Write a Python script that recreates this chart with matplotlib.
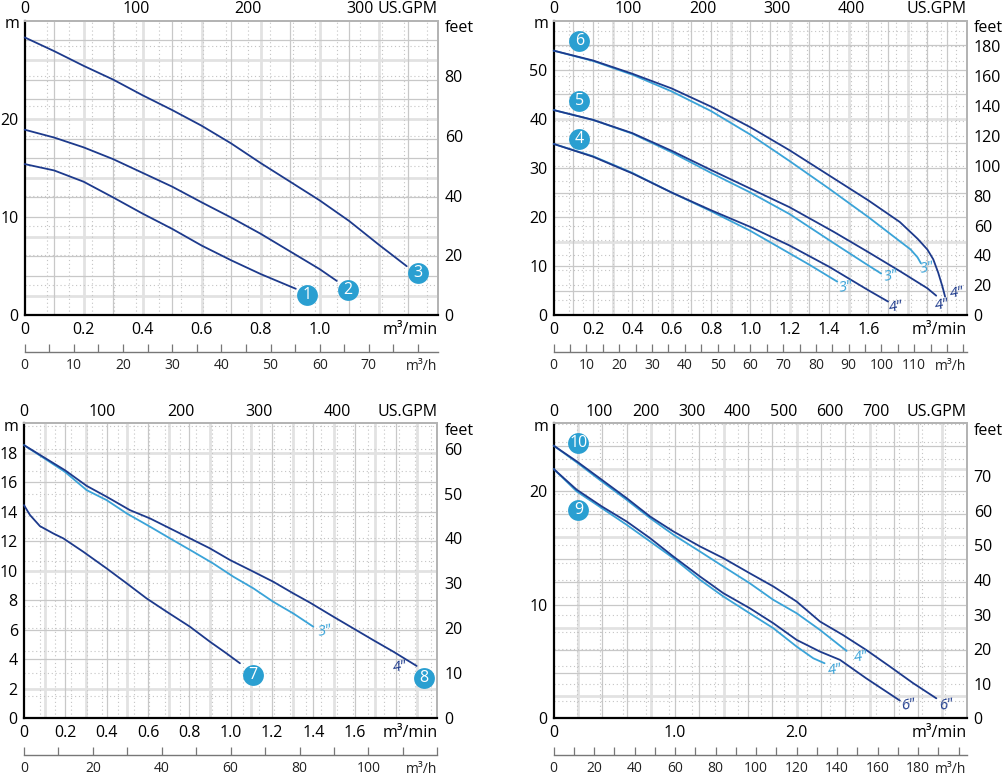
import numpy as np
import matplotlib
matplotlib.use('Agg')
import matplotlib.pyplot as plt
from matplotlib.ticker import FixedLocator

plt.rcParams['font.family'] = ['Open Sans', 'DejaVu Sans']

GPM = 264.172   # US gallons per minute in 1 m3/min
FT = 3.28084    # feet per metre

DARK = '#1d3a8c'
LIGHT = '#3aa3d8'
BADGE = '#2a9fd1'

# ---------------- Panel 1 (pumps 1-3) ----------------
p1_c1_q = [0, 0.1, 0.2, 0.3, 0.4, 0.5, 0.6, 0.7, 0.8, 0.919]
p1_c1_h = [15.4, 14.75, 13.6, 12.0, 10.35, 8.8, 7.1, 5.6, 4.2, 2.7]
p1_c2_q = [0, 0.1, 0.2, 0.3, 0.4, 0.5, 0.6, 0.7, 0.8, 0.9, 1.0, 1.058]
p1_c2_h = [18.9, 18.1, 17.1, 15.9, 14.5, 13.1, 11.5, 9.95, 8.3, 6.5, 4.7, 3.5]
p1_c3_q = [0, 0.1, 0.2, 0.3, 0.4, 0.5, 0.6, 0.7, 0.8, 0.9, 1.0, 1.1, 1.2, 1.295]
p1_c3_h = [28.3, 26.9, 25.4, 24.0, 22.4, 20.9, 19.3, 17.5, 15.5, 13.6, 11.7, 9.6, 7.2, 5.0]
p1_badges = [(0.958, 2.1, '1'), (1.095, 2.6, '2'), (1.334, 4.3, '3')]

# ---------------- Panel 2 (pumps 4-6, 3" / 4") ----------------
p2_c6_4_q = [0, 0.2, 0.4, 0.6, 0.8, 1.0, 1.2, 1.4, 1.6, 1.76, 1.85, 1.9, 1.93, 1.955, 1.977, 1.99]
p2_c6_4_h = [53.9, 51.9, 49.2, 46.2, 42.5, 38.3, 33.6, 28.5, 23.4, 19.0, 15.6, 13.4, 11.4, 8.7, 5.8, 3.8]
p2_c6_3_q = [0, 0.2, 0.4, 0.6, 0.8, 1.0, 1.2, 1.4, 1.6, 1.73, 1.815, 1.85, 1.867]
p2_c6_3_h = [53.9, 51.8, 49.0, 45.6, 41.6, 36.8, 31.4, 25.8, 20.0, 16.0, 13.4, 11.8, 10.6]
p2_c5_4_q = [0, 0.2, 0.4, 0.6, 0.8, 1.0, 1.2, 1.424, 1.594, 1.764, 1.9, 1.945]
p2_c5_4_h = [41.8, 39.8, 37.1, 33.5, 29.6, 25.8, 22.0, 17.0, 13.0, 8.9, 5.5, 4.0]
p2_c5_3_q = [0, 0.2, 0.4, 0.6, 0.8, 1.0, 1.2, 1.424, 1.594, 1.665]
p2_c5_3_h = [41.8, 39.8, 37.0, 33.2, 29.0, 25.0, 20.6, 14.7, 10.3, 8.5]
p2_c4_4_q = [0, 0.2, 0.4, 0.6, 0.8, 1.0, 1.2, 1.4, 1.6, 1.70]
p2_c4_4_h = [34.9, 32.3, 28.9, 25.0, 21.4, 18.0, 14.2, 9.9, 5.1, 2.8]
p2_c4_3_q = [0, 0.2, 0.4, 0.6, 0.8, 1.0, 1.2, 1.3, 1.442]
p2_c4_3_h = [34.9, 32.4, 29.0, 25.0, 21.2, 17.2, 12.6, 10.3, 6.85]
p2_badges = [(0.131, 55.9, '6'), (0.131, 43.6, '5'), (0.131, 35.9, '4')]
p2_tags = [(1.90, 9.6, '3"', LIGHT), (1.713, 7.9, '3"', LIGHT), (1.484, 5.7, '3"', LIGHT),
           (2.05, 4.5, '4"', DARK), (1.977, 2.1, '4"', DARK), (1.739, 1.75, '4"', DARK)]

# ---------------- Panel 3 (pumps 7-8) ----------------
p3_c7_q = [0, 0.029, 0.077, 0.142, 0.19, 0.287, 0.4, 0.497, 0.593, 0.69, 0.803, 0.9, 0.98, 1.045]
p3_c7_h = [14.45, 13.78, 13.03, 12.53, 12.2, 11.29, 10.16, 9.15, 8.13, 7.23, 6.21, 5.19, 4.4, 3.73]
p3_c8_4_q = [0, 0.198, 0.303, 0.4, 0.513, 0.61, 0.69, 0.803, 0.9, 0.997, 1.11, 1.206, 1.303, 1.384,
             1.497, 1.593, 1.69, 1.787, 1.9]
p3_c8_4_h = [18.52, 16.82, 15.76, 15.02, 14.11, 13.55, 12.99, 12.2, 11.52, 10.73, 9.94, 9.26, 8.47, 7.84,
             6.89, 6.1, 5.3, 4.52, 3.55]
p3_c8_3_q = [0, 0.198, 0.303, 0.4, 0.497, 0.61, 0.706, 0.819, 0.915, 1.013, 1.11, 1.206, 1.303, 1.4]
p3_c8_3_h = [18.52, 16.71, 15.47, 14.79, 13.89, 12.99, 12.2, 11.29, 10.5, 9.6, 8.81, 7.9, 7.11, 6.21]
p3_badges = [(1.109, 2.94, '7'), (1.937, 2.71, '8')]
p3_tags = [(1.456, 5.94, '3"', LIGHT), (1.819, 3.46, '4"', DARK)]

# ---------------- Panel 4 (pumps 9-10, 4" / 6") ----------------
p4_c10_6_q = [0, 0.189, 0.395, 0.6, 0.793, 0.985, 1.204, 1.396, 1.613, 1.808, 2.0, 2.192, 2.38, 2.572,
              2.768, 2.96, 3.15]
p4_c10_6_h = [24.03, 22.65, 21.03, 19.41, 17.79, 16.47, 15.15, 14.12, 12.79, 11.62, 10.29, 8.53, 7.35,
              6.03, 4.56, 3.09, 1.76]
p4_c10_4_q = [0, 0.189, 0.395, 0.6, 0.793, 0.985, 1.204, 1.396, 1.613, 1.808, 2.0, 2.192, 2.411]
p4_c10_4_h = [24.03, 22.56, 20.88, 19.26, 17.65, 16.18, 14.7, 13.38, 11.91, 10.44, 9.26, 7.79, 5.94]
p4_c9_6_q = [0, 0.189, 0.395, 0.6, 0.793, 0.985, 1.204, 1.396, 1.613, 1.808, 2.0, 2.192, 2.357, 2.572,
             2.85]
p4_c9_6_h = [21.97, 20.15, 18.68, 17.35, 15.88, 14.26, 12.5, 11.03, 9.71, 8.38, 6.91, 5.88, 5.15, 3.53,
             1.56]
p4_c9_4_q = [0, 0.189, 0.395, 0.6, 0.793, 0.985, 1.204, 1.396, 1.613, 1.808, 2.0, 2.137, 2.23]
p4_c9_4_h = [21.97, 20.0, 18.53, 17.06, 15.59, 14.12, 12.21, 10.74, 9.26, 7.94, 6.32, 5.29, 4.85]
p4_badges = [(0.203, 24.26, '10'), (0.203, 18.38, '9')]
p4_tags = [(3.234, 1.18, '6"', DARK), (2.919, 1.18, '6"', DARK),
           (2.535, 5.38, '4"', LIGHT), (2.315, 4.26, '4"', LIGHT)]

# ---------------- axis definitions ----------------
p1_xticks = [0, 0.2, 0.4, 0.6, 0.8, 1.0]
p1_xlabels = ['0', '0.2', '0.4', '0.6', '0.8', '1.0']
p1_yticks = [0, 10, 20]
p1_gpm = [0, 100, 200, 300]
p1_feet = [0, 20, 40, 60, 80]
p1_mh = [0, 10, 20, 30, 40, 50, 60, 70]

p2_xticks = [0, 0.2, 0.4, 0.6, 0.8, 1.0, 1.2, 1.4, 1.6]
p2_xlabels = ['0', '0.2', '0.4', '0.6', '0.8', '1.0', '1.2', '1.4', '1.6']
p2_yticks = [0, 10, 20, 30, 40, 50]
p2_gpm = [0, 100, 200, 300, 400]
p2_feet = [0, 20, 40, 60, 80, 100, 120, 140, 160, 180]
p2_mh = [0, 10, 20, 30, 40, 50, 60, 70, 80, 90, 100, 110]

p3_xticks = p2_xticks
p3_xlabels = p2_xlabels
p3_yticks = [0, 2, 4, 6, 8, 10, 12, 14, 16, 18]
p3_gpm = [0, 100, 200, 300, 400]
p3_feet = [0, 10, 20, 30, 40, 50, 60]
p3_mh = [0, 20, 40, 60, 80, 100]

p4_xticks = [0, 1.0, 2.0]
p4_xlabels = ['0', '1.0', '2.0']
p4_yticks = [0, 10, 20]
p4_gpm = [0, 100, 200, 300, 400, 500, 600, 700]
p4_feet = [0, 10, 20, 30, 40, 50, 60, 70]
p4_mh = [0, 20, 40, 60, 80, 100, 120, 140, 160, 180]

W, H = 1003, 780
fig = plt.figure(figsize=(W / 100, H / 100), dpi=100)


def px_rect(l, r, t, b):
    return [l / W, (H - b) / H, (r - l) / W, (b - t) / H]


panels = [
    dict(rect=px_rect(24.7, 437.7, 20.7, 315.3), xmax=1.4, ymax=30,
         xticks=p1_xticks, xlabels=p1_xlabels, yticks=p1_yticks, gpm=p1_gpm, feet=p1_feet,
         mh=p1_mh, mh_minor=5,
         curves=[(p1_c1_q, p1_c1_h, DARK), (p1_c2_q, p1_c2_h, DARK), (p1_c3_q, p1_c3_h, DARK)],
         badges=p1_badges, tags=[],
         vs=0.1, vthick=[0.2, 0.4, 0.6, 0.8, 1.0, 1.2], vdot=20, hs=2, hthick=[2, 8, 14, 20, 26], hdot=10),
    dict(rect=px_rect(553.7, 966.7, 20.7, 315.3), xmax=2.1, ymax=60,
         xticks=p2_xticks, xlabels=p2_xlabels, yticks=p2_yticks, gpm=p2_gpm, feet=p2_feet,
         mh=p2_mh, mh_minor=5,
         curves=[(p2_c6_3_q, p2_c6_3_h, LIGHT), (p2_c5_3_q, p2_c5_3_h, LIGHT), (p2_c4_3_q, p2_c4_3_h, LIGHT),
                 (p2_c6_4_q, p2_c6_4_h, DARK), (p2_c5_4_q, p2_c5_4_h, DARK), (p2_c4_4_q, p2_c4_4_h, DARK)],
         badges=p2_badges, tags=p2_tags,
         vs=0.1, vthick=[0.3, 0.6, 0.9, 1.2, 1.5, 1.8], vdot=20, hs=5, hthick=[15, 40], hdot=10),
    dict(rect=px_rect(24.0, 437.3, 423.3, 718.3), xmax=2.0, ymax=20,
         xticks=p3_xticks, xlabels=p3_xlabels, yticks=p3_yticks, gpm=p3_gpm, feet=p3_feet,
         mh=p3_mh, mh_minor=10,
         curves=[(p3_c8_3_q, p3_c8_3_h, LIGHT), (p3_c8_4_q, p3_c8_4_h, DARK), (p3_c7_q, p3_c7_h, DARK)],
         badges=p3_badges, tags=p3_tags,
         vs=0.1, vthick=[0.1, 0.3, 0.5, 0.7, 0.9, 1.1, 1.3, 1.5, 1.7, 1.9], vdot=20, hs=2,
         hthick=[2, 10, 18], hdot=5),
    dict(rect=px_rect(553.7, 966.7, 423.3, 718.3), xmax=3.4, ymax=26,
         xticks=p4_xticks, xlabels=p4_xlabels, yticks=p4_yticks, gpm=p4_gpm, feet=p4_feet,
         mh=p4_mh, mh_minor=10,
         curves=[(p4_c10_4_q, p4_c10_4_h, LIGHT), (p4_c9_4_q, p4_c9_4_h, LIGHT),
                 (p4_c10_6_q, p4_c10_6_h, DARK), (p4_c9_6_q, p4_c9_6_h, DARK)],
         badges=p4_badges, tags=p4_tags,
         vs=0.2, vthick=[0.2, 0.8, 1.4, 2.0, 2.6, 3.2], vdot=50, hs=2, hthick=[2, 8, 16, 22], hdot=5),
]

FS = 11.5
GRID = '#c8c8c8'
THICK = '#e2e2e2'
DOT = '#c4c4c4'
for P in panels:
    ax = fig.add_axes(P['rect'])
    xmax, ymax = P['xmax'], P['ymax']
    ax.set_xlim(0, xmax)
    ax.set_ylim(0, ymax)

    # grid
    vthick = np.array(P['vthick'])
    hthick = np.array(P['hthick'])
    for v in np.arange(P['vs'], xmax - 1e-6, P['vs']):
        if np.min(np.abs(vthick - v)) > 1e-6:
            ax.axvline(v, color=GRID, lw=0.9, zorder=0.6)
    for v in vthick:
        ax.axvline(v, color=THICK, lw=2.0, zorder=0.5)
    for g in np.arange(P['vdot'], xmax * GPM - 1e-6, P['vdot']):
        ax.axvline(g / GPM, color=DOT, lw=0.8, ls=(0, (1, 2.5)), zorder=0.6)
    for hv in np.arange(P['hs'], ymax - 1e-6, P['hs']):
        if np.min(np.abs(hthick - hv)) > 1e-6:
            ax.axhline(hv, color=GRID, lw=0.9, zorder=0.6)
    for hv in hthick:
        ax.axhline(hv, color=THICK, lw=2.0, zorder=0.5)
    for f in np.arange(P['hdot'], ymax * FT - 1e-6, P['hdot']):
        ax.axhline(f / FT, color=DOT, lw=0.8, ls=(0, (1, 2.5)), zorder=0.6)

    # curves
    for q, h, c in P['curves']:
        ax.plot(q, h, color=c, lw=1.3, solid_capstyle='round', solid_joinstyle='round',
                zorder=3, clip_on=False)
    for x, y, t in P['badges']:
        ax.plot([x], [y], 'o', ms=15, color=BADGE, mec='none', zorder=5, clip_on=False)
        ax.text(x, y, t, color='white', fontsize=11.5, ha='center', va='center', zorder=6)
    for x, y, t, c in P['tags']:
        ax.text(x, y, t, color=c, fontsize=11, style='italic', ha='center', va='center',
                rotation=12, zorder=4)

    # spines
    for s in ('left', 'bottom'):
        ax.spines[s].set_color('black')
        ax.spines[s].set_linewidth(1.6)
    for s in ('top', 'right'):
        ax.spines[s].set_color('#b4b4b4')
        ax.spines[s].set_linewidth(1.4)

    ax.set_xticks(P['xticks'])
    ax.set_xticklabels(P['xlabels'])
    ax.set_yticks(P['yticks'])
    ax.tick_params(axis='both', length=0, labelsize=FS)
    ax.tick_params(axis='x', pad=5)
    ax.tick_params(axis='y', pad=4.5)

    top = ax.secondary_xaxis('top', functions=(lambda q: q * GPM, lambda g: g / GPM))
    top.set_xticks(P['gpm'])
    top.tick_params(length=0, labelsize=FS, pad=2.5)
    top.spines['top'].set_color('#b4b4b4')
    top.spines['top'].set_linewidth(1.4)

    right = ax.secondary_yaxis('right', functions=(lambda m: m * FT, lambda f: f / FT))
    right.set_yticks(P['feet'])
    right.tick_params(length=0, labelsize=FS, pad=5)
    right.spines['right'].set_color('#b4b4b4')
    right.spines['right'].set_linewidth(1.4)

    hgt = P['rect'][3] * H
    loc = -36.5 / hgt
    mh = ax.secondary_xaxis(loc, functions=(lambda q: q * 60, lambda v: v / 60))
    mh.set_xticks(P['mh'])
    mh.xaxis.set_minor_locator(FixedLocator(np.arange(0, xmax * 60 + 1e-6, P['mh_minor'])))
    mh.tick_params(which='both', direction='in', length=5.5, width=0.9, color='#777777',
                   labelsize=10, pad=4.5, labelcolor='#222222')
    mh.spines['bottom'].set_color('#777777')
    mh.spines['bottom'].set_linewidth(1.0)

    kw = dict(xycoords='axes fraction', textcoords='offset pixels', va='center', fontsize=FS)
    ax.annotate('m', xy=(0, 1), xytext=(-12.5, -3.5), ha='center', **kw)
    ax.annotate('feet', xy=(1, 1), xytext=(7.5, -7.6), ha='left', **kw)
    ax.annotate('US.GPM', xy=(1, 1), xytext=(0, 11.7), ha='right', **kw)
    ax.annotate('m³/min', xy=(1, 0), xytext=(0, -15), ha='right', **kw)
    ax.annotate('m³/h', xy=(1, 0), xytext=(0, -51.5), ha='right', xycoords='axes fraction',
                textcoords='offset pixels', va='center', fontsize=10, color='#222222')

fig.savefig('out.png', dpi=100)
